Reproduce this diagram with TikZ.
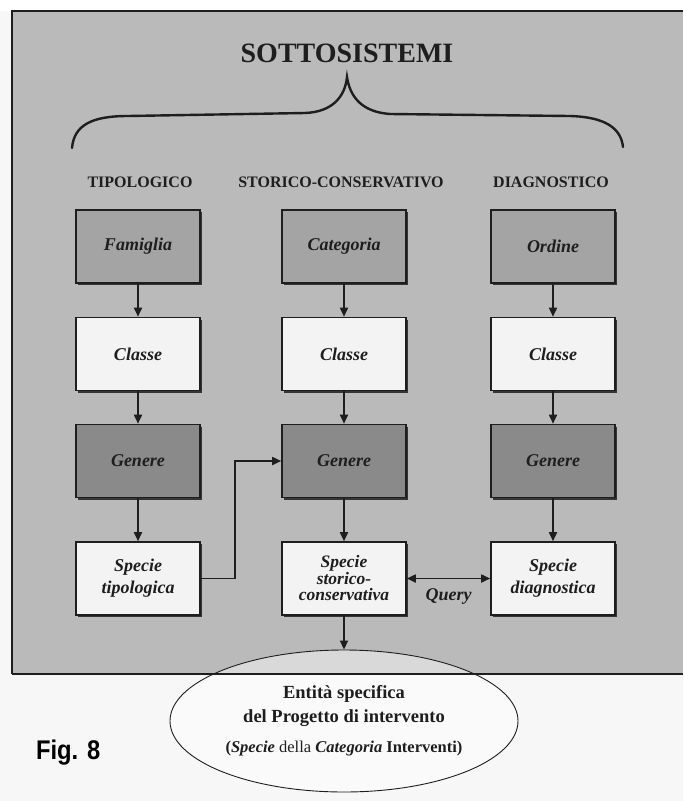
\documentclass[tikz,border=0pt]{standalone}
\usepackage{fontspec}
\setmainfont{Liberation Serif}
\newfontfamily\figfont{Liberation Sans}
\usetikzlibrary{shapes.geometric,arrows.meta,shadows}
\definecolor{panel}{HTML}{BABABA}
\definecolor{midbox}{HTML}{A4A4A4}
\definecolor{darkbox}{HTML}{8A8A8A}
\definecolor{lightbox}{HTML}{F3F3F3}
\definecolor{ink}{HTML}{1E1E1E}
\definecolor{paper}{HTML}{F7F7F7}
\begin{document}
\begin{tikzpicture}[x=1pt,y=-1pt,
  box/.style={draw=ink, line width=1.6pt, minimum width=124pt, minimum height=73pt,
    inner sep=2pt, align=center, text=ink,
    font=\fontsize{18}{15.5}\selectfont\bfseries\itshape,
    drop shadow={shadow xshift=2pt,shadow yshift=-2pt,fill=ink,opacity=.85}},
  topbox/.style={box, fill=midbox},
  clsbox/.style={box, fill=lightbox},
  genbox/.style={box, fill=darkbox},
  head/.style={font=\fontsize{16}{16}\selectfont\bfseries, text=ink},
  arr/.style={draw=ink, line width=1.7pt, -{Triangle[width=8pt,length=9pt]}},
  darr/.style={draw=ink, line width=1.7pt, {Triangle[width=8pt,length=9pt]}-{Triangle[width=8pt,length=9pt]}}
]
% page and panel
\fill[paper] (0,0) rectangle (683,801);
\fill[white] (0,0) rectangle (683,11);
\fill[panel] (12,11) rectangle (683,674);
\draw[ink, line width=1.2pt] (683,11) -- (12,11) -- (12,674);

% title and brace
\node[font=\fontsize{28}{28}\selectfont\bfseries, text=ink] (title) at (347,53) {SOTTOSISTEMI};
\draw[ink, line width=2.4pt, line cap=round]
  (72,148) .. controls (74,125) and (92,116) .. (128,116) -- (305,113)
  .. controls (332,112) and (345,97) .. (347,77)
  .. controls (350,97) and (362,112) .. (390,114) -- (570,116)
  .. controls (605,117) and (621,128) .. (623,147);

% column headers
\node[head] (h1) at (140,182) {TIPOLOGICO};
\node[head] (h2) at (341,182) {STORICO-CONSERVATIVO};
\node[head] (h3) at (551,182) {DIAGNOSTICO};

% boxes
\node[topbox] (f1) at (138,246.5) {Famiglia};
\node[topbox] (f2) at (344,246.5) {Categoria};
\node[topbox] (f3) at (553,246.5) {Ordine};
\node[clsbox] (c1) at (138,354) {Classe};
\node[clsbox] (c2) at (344,354) {Classe};
\node[clsbox] (c3) at (553,354) {Classe};
\node[genbox] (g1) at (138,461) {Genere};
\node[genbox] (g2) at (344,461) {Genere};
\node[genbox] (g3) at (553,461) {Genere};
\node[clsbox] (s1) at (138,578.5) {Specie\\[5pt]tipologica};
\node[clsbox, font=\fontsize{17.5}{16.5}\selectfont\bfseries\itshape] (s2) at (344,578.5) {Specie\\storico-\\conservativa};
\node[clsbox] (s3) at (553,578.5) {Specie\\[5pt]diagnostica};

% vertical arrows
\foreach \c in {1,2,3}{
  \draw[arr] (f\c.south) -- (c\c.north);
  \draw[arr] (c\c.south) -- (g\c.north);
  \draw[arr] (g\c.south) -- (s\c.north);
}

% tipologica -> genere (storico)
\coordinate (bend) at (235,0);
\draw[arr] (s1.east) -- (s1.east -| bend) -- (bend |- g2.west) -- (g2.west);

% query
\draw[darr] (s2.east) -- (s3.west)
  node[midway, below=6pt, font=\fontsize{18}{18}\selectfont\bfseries\itshape, text=ink] (q) {Query};

% final entity
\node[ellipse, draw=ink, line width=0.9pt, minimum width=348pt, minimum height=142pt,
  inner sep=0pt, fill=white, fill opacity=0.45, text opacity=1, text=ink, align=center,
  font=\fontsize{18.5}{24}\selectfont\bfseries]
  (ent) at (344,721)
  {Entità specifica\\
   del Progetto di intervento\\[6pt]
   {\fontsize{16.5}{18}\selectfont (\textit{Specie} \mdseries della \bfseries\textit{Categoria} Interventi)}};
\draw[arr] (s2.south) -- (ent.north);
\draw[ink, line width=1.2pt] (12,674) -- (683,674);

% figure label
\node[font=\figfont\fontsize{27}{27}\selectfont\bfseries, text=black, xscale=0.88, anchor=west] (fig) at (33,753) {Fig. 8};
\end{tikzpicture}
\end{document}
